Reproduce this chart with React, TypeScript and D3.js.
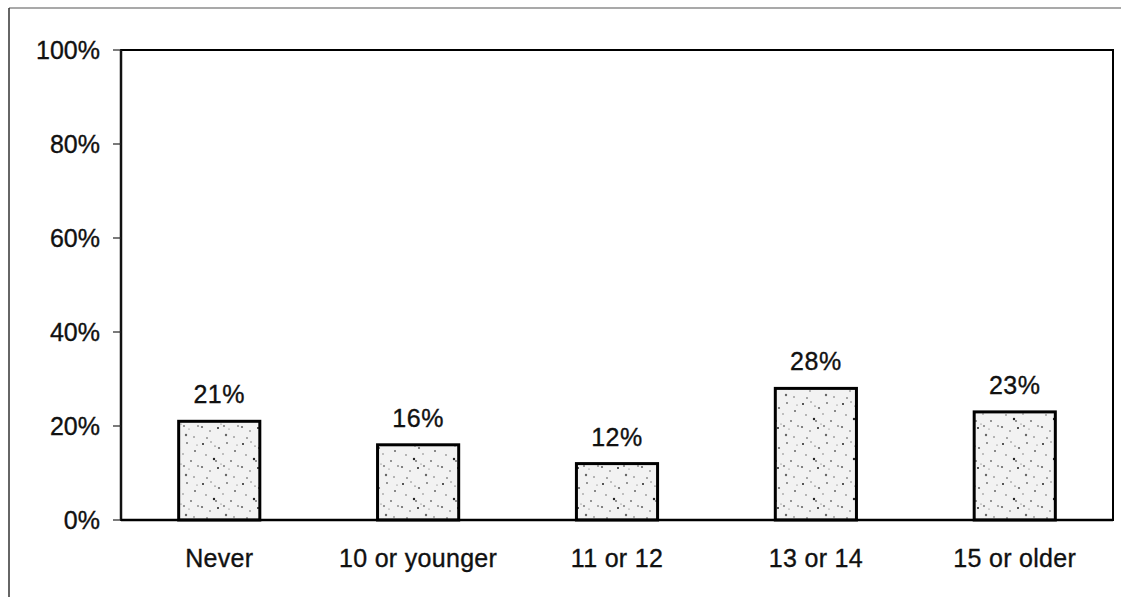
import React from "react";
import * as d3 from "d3";

const categories = ["Never", "10 or younger", "11 or 12", "13 or 14", "15 or older"];
const values = [0.21, 0.16, 0.12, 0.28, 0.23];
const valueLabels = ["21%", "16%", "12%", "28%", "23%"];
const yTicks = [0, 0.2, 0.4, 0.6, 0.8, 1.0];
const yTickLabels = ["0%", "20%", "40%", "60%", "80%", "100%"];

const W = 1123;
const H = 597;
const plot = { left: 121, right: 1113, top: 50, bottom: 520 };
const FONT = "'Liberation Sans', Arial, Helvetica, sans-serif";

// speckle texture for the bar fill (purely decorative)
const speckles: [number, number, number][] = [
  [3, 4, 1.0], [11, 2, 0.7], [19, 8, 1.1], [27, 3, 0.8], [35, 11, 1.0],
  [6, 15, 0.8], [14, 19, 1.2], [23, 14, 0.7], [31, 21, 0.9], [38, 26, 0.7],
  [2, 27, 1.1], [10, 31, 0.8], [18, 28, 1.0], [26, 35, 1.2], [34, 37, 0.8],
  [7, 38, 0.7], [21, 24, 0.6], [29, 29, 0.6], [15, 6, 0.6], [37, 5, 0.6],
  [16, 21, 0.9], [24, 26, 0.8],
];

export default function App() {
  const x = d3
    .scaleBand<string>()
    .domain(categories)
    .range([plot.left, plot.right])
    .paddingInner(0.592)
    .paddingOuter(0.29);
  const y = d3.scaleLinear().domain([0, 1]).range([plot.bottom, plot.top]);

  const textStyle = { stroke: "#111", strokeWidth: 0.35 };

  return (
    <svg
      width={W}
      height={H}
      style={{ position: "absolute", left: 0, top: 0, background: "#fff" }}
      fontFamily={FONT}
    >
      <defs>
        <pattern id="speck" width={40} height={40} patternUnits="userSpaceOnUse">
          <rect width={40} height={40} fill="#f2f2f2" />
          {speckles.map(([cx, cy, r], i) => (
            <circle key={i} cx={cx} cy={cy} r={r} fill={i % 3 === 0 ? "#222" : "#666"} />
          ))}
        </pattern>
      </defs>

      {/* outer frame */}
      <line x1={9} y1={8} x2={1121} y2={8} stroke="#555" strokeWidth={1.2} />
      <line x1={9} y1={8} x2={9} y2={H} stroke="#333" strokeWidth={1.5} />

      {/* plot area frame */}
      <rect
        x={plot.left}
        y={plot.top}
        width={plot.right - plot.left}
        height={plot.bottom - plot.top}
        fill="none"
        stroke="#000"
        strokeWidth={2}
      />
      <line x1={plot.left} y1={plot.top} x2={plot.left} y2={plot.bottom} stroke="#111" strokeWidth={2.5} />

      {/* y ticks */}
      {yTicks.map((t, i) => (
        <g key={t}>
          <line x1={plot.left - 8} x2={plot.left} y1={y(t)} y2={y(t)} stroke="#222" strokeWidth={1.2} />
          <text
            x={plot.left - 21}
            y={y(t)}
            dy="0.36em"
            textAnchor="end"
            fontSize={25}
            fill="#111"
            {...textStyle}
          >
            {yTickLabels[i]}
          </text>
        </g>
      ))}

      {/* bars */}
      {categories.map((c, i) => (
        <g key={c}>
          <rect
            x={x(c)!}
            y={y(values[i])}
            width={x.bandwidth()}
            height={y(0) - y(values[i])}
            fill="url(#speck)"
            stroke="#000"
            strokeWidth={3}
          />
          <text
            x={x(c)! + x.bandwidth() / 2}
            y={y(values[i]) - 18}
            textAnchor="middle"
            fontSize={25}
            letterSpacing={0.5}
            fill="#111"
            {...textStyle}
          >
            {valueLabels[i]}
          </text>
          <text
            x={x(c)! + x.bandwidth() / 2}
            y={567}
            textAnchor="middle"
            fontSize={25}
            letterSpacing={0.3}
            fill="#111"
            {...textStyle}
          >
            {c}
          </text>
        </g>
      ))}

      {/* baseline */}
      <line x1={plot.left} x2={plot.right} y1={y(0)} y2={y(0)} stroke="#000" strokeWidth={2.5} />
    </svg>
  );
}
